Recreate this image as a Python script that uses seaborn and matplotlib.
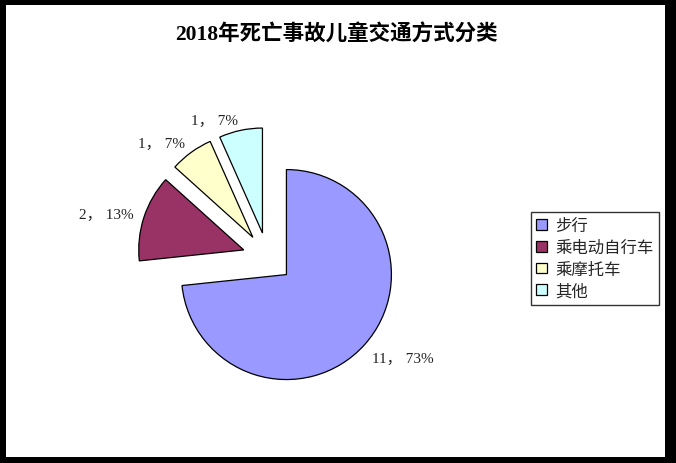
import matplotlib
matplotlib.use('Agg')
import matplotlib.pyplot as plt
import seaborn as sns
from matplotlib.patches import Rectangle

# data
categories = ['步行', '乘电动自行车', '乘摩托车', '其他']
counts = [11, 2, 1, 1]
percents = [73, 13, 7, 7]
colors = ['#9999FF', '#993366', '#FFFFCC', '#CCFFFF']
title = '2018年死亡事故儿童交通方式分类'

sns.set_theme(style='white')
plt.rcParams['font.family'] = ['Liberation Serif', 'Noto Sans CJK SC', 'DejaVu Sans']

fig = plt.figure(figsize=(6.76, 4.64), dpi=100, facecolor='black')
fig.add_artist(Rectangle((6 / 676, 6 / 464), 659 / 676, 452 / 464,
                         transform=fig.transFigure, facecolor='white',
                         edgecolor='none', zorder=0))

ax = fig.add_axes([0.1475, 0.0804, 0.497, 0.7241])
ax.set_facecolor('none')

labels = ['{}， {}%'.format(c, p) for c, p in zip(counts, percents)]
wedges, texts = ax.pie(counts, colors=sns.color_palette(colors), startangle=90,
                       counterclock=False, explode=[0.24] * len(counts),
                       labels=labels, labeldistance=1.1,
                       wedgeprops=dict(edgecolor='black', linewidth=0.9),
                       textprops=dict(fontsize=11, color='#222222'))
# labels below the centre hang from their anchor, as in the original
for t in texts:
    if t.get_position()[1] < 0:
        t.set_va('top')
ax.set_xlim(-1.6, 1.6)
ax.set_ylim(-1.6, 1.6)
ax.set_aspect('equal')
ax.axis('off')

fig.text(336 / 676, 1 - 35 / 464, title, ha='center', va='center',
         fontsize=15.5, fontweight='bold', color='black')

leg = fig.legend(wedges, categories, loc='upper left',
                 bbox_to_anchor=(531 / 676, 1 - 213 / 464),
                 frameon=True, fancybox=False, shadow=False,
                 handlelength=0.65, handleheight=0.65, handletextpad=0.55,
                 labelspacing=0.3, borderpad=0.3, borderaxespad=0,
                 prop=dict(family=['Noto Sans CJK SC', 'DejaVu Sans'], size=11.8))
leg.get_frame().set_edgecolor('black')
leg.get_frame().set_linewidth(1.0)
leg.get_frame().set_facecolor('white')

fig.savefig('out.png', dpi=100, facecolor=fig.get_facecolor())
